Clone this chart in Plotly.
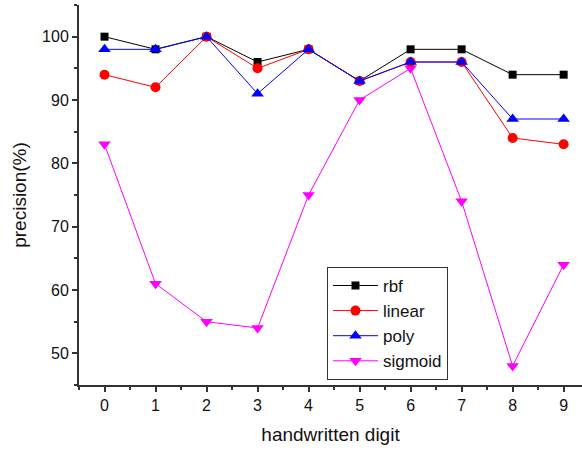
import plotly.graph_objects as go

digits = [0, 1, 2, 3, 4, 5, 6, 7, 8, 9]
rbf = [100, 98, 100, 96, 98, 93, 98, 98, 94, 94]
linear = [94, 92, 100, 95, 98, 93, 96, 96, 84, 83]
poly = [98, 98, 100, 91, 98, 93, 96, 96, 87, 87]
sigmoid = [83, 61, 55, 54, 75, 90, 95, 74, 48, 64]

fig = go.Figure()
specs = [
    ("sigmoid", sigmoid, "#FF00FF", "triangle-down", 11, 4),
    ("rbf", rbf, "#000000", "square", 8, 1),
    ("linear", linear, "#FF0000", "circle", 10, 2),
    ("poly", poly, "#0000FF", "triangle-up", 11, 3),
]
for name, vals, color, sym, size, rank in specs:
    fig.add_trace(go.Scatter(
        x=digits, y=vals, name=name, mode="lines+markers",
        line=dict(color=color, width=1),
        marker=dict(symbol=sym, size=size, color=color),
        legendrank=rank,
    ))

fig.update_layout(
    width=582, height=450,
    margin=dict(l=79, r=0, t=5, b=65),
    paper_bgcolor="white", plot_bgcolor="white",
    font=dict(family="Arial, Liberation Sans, sans-serif", size=16, color="#222"),
    legend=dict(
        x=0.493, y=0.162, xanchor="left", yanchor="middle",
        bordercolor="#333", borderwidth=1, bgcolor="white",
        font=dict(size=17, color="#111"), tracegroupgap=0,
        itemwidth=45,
    ),
)
fig.update_xaxes(
    range=[-0.5, 9.36], tickmode="array", tickvals=digits,
    ticktext=[str(d) for d in digits],
    showgrid=False, zeroline=False, showline=True, linecolor="#333", linewidth=2,
    ticks="outside", ticklen=5, tickwidth=1.5, tickcolor="#333",
    minor=dict(tickvals=[d + 0.5 for d in range(-1, 10)], ticks="outside", ticklen=3, tickcolor="#333", tickwidth=1.5),
    title=dict(text="handwritten digit", font=dict(size=19, color="#111"), standoff=14),
    tickfont=dict(size=16, color="#111"),
)
fig.update_yaxes(
    range=[45, 105], tickmode="array", tickvals=[50, 60, 70, 80, 90, 100],
    showgrid=False, zeroline=False, showline=True, linecolor="#333", linewidth=2,
    ticks="outside", ticklen=5, tickwidth=1.5, tickcolor="#333",
    minor=dict(tickvals=[45, 55, 65, 75, 85, 95, 105], ticks="outside", ticklen=3, tickcolor="#333", tickwidth=1.5),
    title=dict(text="precision(%)", font=dict(size=19, color="#111"), standoff=10),
    tickfont=dict(size=16, color="#111"),
)

fig.write_html("out.html")
